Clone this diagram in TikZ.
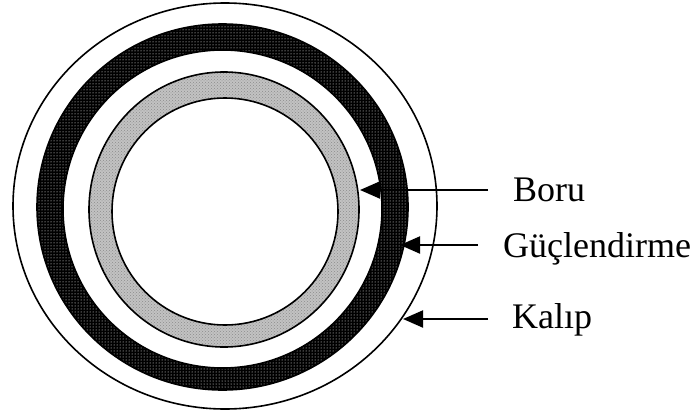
\documentclass[tikz,border=0pt]{standalone}
\usepackage{fontspec}
\setmainfont{Liberation Serif}
\usetikzlibrary{arrows.meta,patterns}
\begin{document}
\begin{tikzpicture}[x=1pt,y=-1pt,
  ringline/.style={line width=1.6pt},
  arr/.style={line width=2pt,-{Triangle[length=20pt,width=17pt]}},
  lbl/.style={anchor=base west,inner sep=0pt,font=\fontsize{36}{40}\selectfont}]
\useasboundingbox (0,0) rectangle (700,417);
% outer mould
\draw[ringline] (225,206) ellipse [x radius=212,y radius=203];
% reinforcement ring: black with white dots
\fill[black,even odd rule] (222.5,207) ellipse [x radius=185.5,y radius=183]
   (222.5,209) ellipse [x radius=159.5,y radius=159];
\fill[pattern=dots,pattern color=white,even odd rule] (222.5,207) ellipse [x radius=185.5,y radius=183]
   (222.5,209) ellipse [x radius=159.5,y radius=159];
\draw[ringline] (222.5,207) ellipse [x radius=185.5,y radius=183];
\draw[ringline] (222.5,209) ellipse [x radius=159.5,y radius=159];
% pipe wall: light dotted grey
\fill[black!24,even odd rule] (224,209.5) ellipse [x radius=135,y radius=137.5]
   (225,211.5) ellipse [x radius=113,y radius=113.5];
\fill[pattern=crosshatch dots,pattern color=black!45,even odd rule] (224,209.5) ellipse [x radius=135,y radius=137.5]
   (225,211.5) ellipse [x radius=113,y radius=113.5];
\draw[ringline] (224,209.5) ellipse [x radius=135,y radius=137.5];
\draw[ringline] (225,211.5) ellipse [x radius=113,y radius=113.5];
% labels
\node[lbl] (boru) at (513,201) {Boru};
\node[lbl] (guc) at (503,257) {Güçlendirme};
\node[lbl] (kalip) at (512,328) {Kalıp};
% arrow ends
\coordinate (boruS) at (488,190);
\coordinate (boruT) at (360,190);
\coordinate (gucS) at (478,245);
\coordinate (gucT) at (400,245);
\coordinate (kalipS) at (488,319);
\coordinate (kalipT) at (403,319);
\draw[arr] (boruS) -- (boruT);
\draw[arr] (gucS) -- (gucT);
\draw[arr] (kalipS) -- (kalipT);
\end{tikzpicture}
\end{document}
